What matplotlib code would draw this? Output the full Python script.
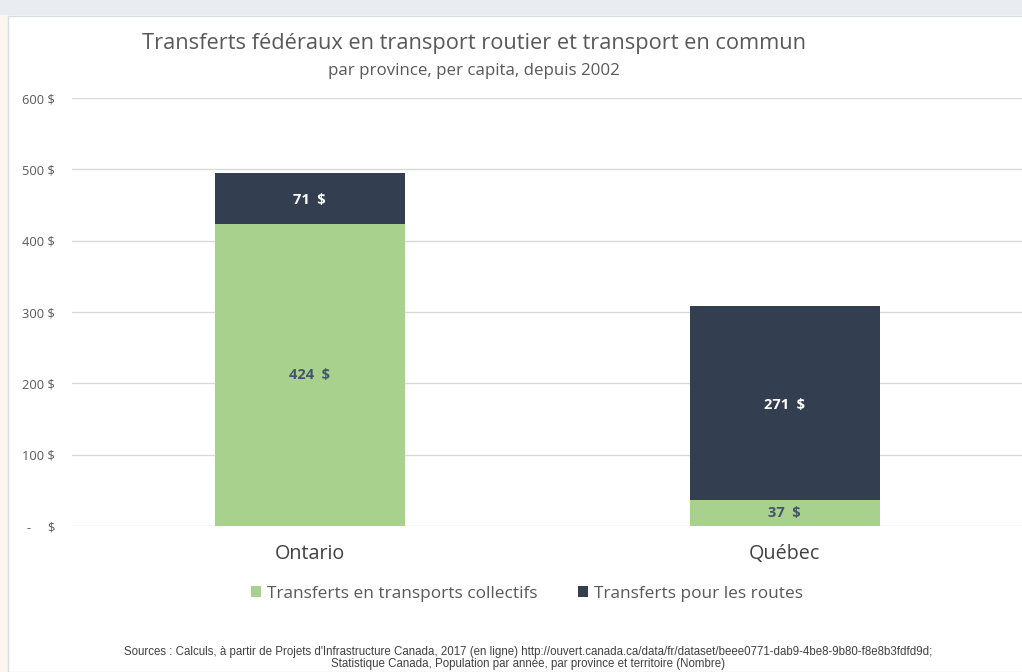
import matplotlib.pyplot as plt
import numpy as np
from matplotlib.patches import Rectangle

provinces = ['Ontario', 'Québec']
collectifs = [424, 37]
routes = [71, 271]
yticks = [0, 100, 200, 300, 400, 500, 600]

green = '#a9d18e'
navy = '#333f50'

plt.rcParams['font.family'] = ['Open Sans', 'DejaVu Sans']

fig = plt.figure(figsize=(10.22, 6.72), dpi=100)
fig.patch.set_facecolor('#fbf7f0')
# top strip and white chart frame
fig.patches.append(Rectangle((0, 1 - 15 / 672), 1, 15 / 672, transform=fig.transFigure,
                             facecolor='#e9ecf0', edgecolor='none', zorder=-10))
fig.patches.append(Rectangle((8 / 1022, 0), 1, 1 - 16 / 672, transform=fig.transFigure,
                             facecolor='white', edgecolor='#d6dde3', linewidth=1, zorder=-10))

ax = fig.add_axes([72 / 1022, 1 - 526 / 672, 950 / 1022, 428 / 672])
ax.set_zorder(1)
ax.set_facecolor('none')
x = np.arange(len(provinces))
width = 0.4
ax.bar(x, collectifs, width, color=green, label='Transferts en transports collectifs', zorder=2)
ax.bar(x, routes, width, bottom=collectifs, color=navy, label='Transferts pour les routes', zorder=2)

for i in range(len(provinces)):
    ax.text(x[i], collectifs[i] / 2, f"{collectifs[i]}  $", ha='center', va='center',
            color='#44546a', fontsize=10.5, fontweight='bold')
    ax.text(x[i], collectifs[i] + routes[i] / 2 - 3, f"{routes[i]}  $", ha='center', va='center',
            color='white', fontsize=10.5, fontweight='bold')

ax.set_xlim(-0.5, 1.5)
ax.set_ylim(0, 600)
ax.set_yticks(yticks)
ax.set_yticklabels([f"{v} $" if v else "-     $" for v in yticks])
ax.set_xticks(x)
ax.set_xticklabels(provinces, fontsize=14.2, color='#404040')
ax.tick_params(axis='y', length=0, pad=12, labelsize=9.3, labelcolor='#595959')
ax.tick_params(axis='x', length=0, pad=13)
ax.grid(axis='y', color='#d9d9d9', linewidth=1, zorder=0)
for s in ax.spines.values():
    s.set_visible(False)

fig.text(474 / 1022, 1 - 44 / 672, 'Transferts fédéraux en transport routier et transport en commun',
         ha='center', va='center', fontsize=15.7, color='#595959')
fig.text(474 / 1022, 1 - 71 / 672, 'par province, per capita, depuis 2002',
         ha='center', va='center', fontsize=12.2, color='#595959')

fig.legend(loc='center', bbox_to_anchor=(527 / 1022, 1 - 594 / 672), ncol=2, frameon=False,
           fontsize=12.4, handlelength=0.6, handleheight=0.6, handletextpad=0.35,
           columnspacing=2.3, labelcolor='#595959')

fig.text(528 / 1022, 1 - 652 / 672,
         "Sources : Calculs, à partir de Projets d'Infrastructure Canada, 2017 (en ligne) "
         "http://ouvert.canada.ca/data/fr/dataset/beee0771-dab9-4be8-9b80-f8e8b3fdfd9d;",
         ha='center', va='center', fontsize=8.3, family='Liberation Sans', color='#404040')
fig.text(528 / 1022, 1 - 664 / 672,
         "Statistique Canada, Population par année, par province et territoire (Nombre)",
         ha='center', va='center', fontsize=8.3, family='Liberation Sans', color='#404040')

fig.savefig('out.png', dpi=100)
